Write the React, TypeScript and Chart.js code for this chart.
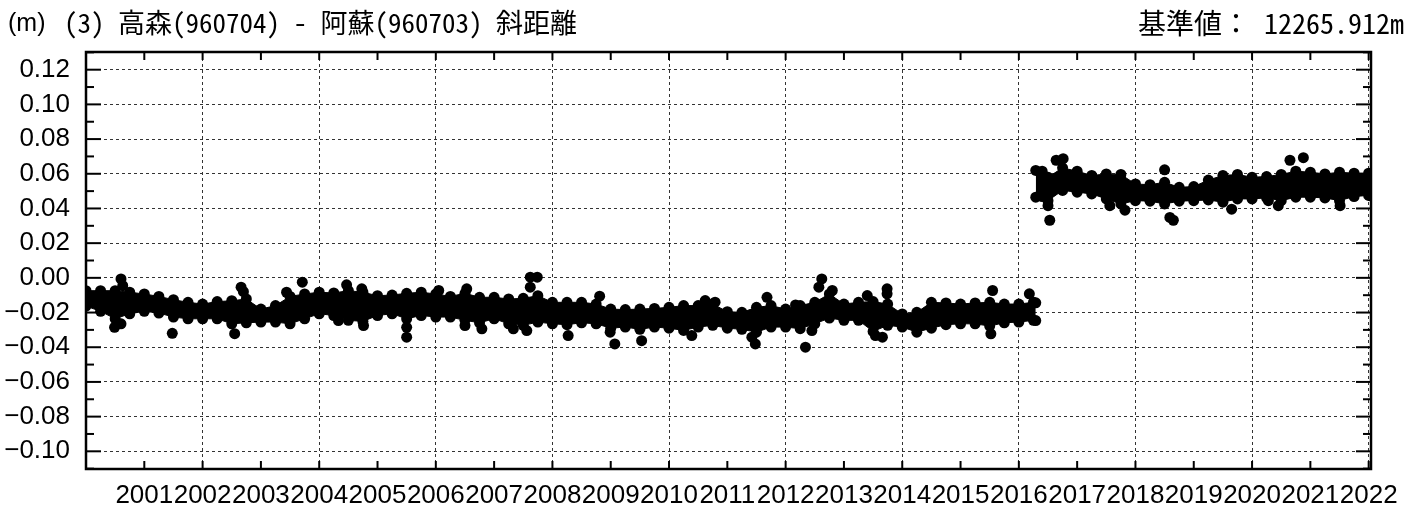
import React, { useEffect, useRef } from 'react';
import { Chart, registerables } from 'chart.js';

Chart.register(...registerables);

// ---- data (decimal years / metres) ----
const timesA = [
  2000.00, 2000.25, 2000.50, 2000.75, 2001.00, 2001.25, 2001.50, 2001.75,
  2002.00, 2002.25, 2002.50, 2002.75, 2003.00, 2003.25, 2003.50, 2003.75,
  2004.00, 2004.25, 2004.50, 2004.75, 2005.00, 2005.25, 2005.50, 2005.75,
  2006.00, 2006.25, 2006.50, 2006.75, 2007.00, 2007.25, 2007.50, 2007.75,
  2008.00, 2008.25, 2008.50, 2008.75, 2009.00, 2009.25, 2009.50, 2009.75,
  2010.00, 2010.25, 2010.50, 2010.75, 2011.00, 2011.25, 2011.50, 2011.75,
  2012.00, 2012.25, 2012.50, 2012.75, 2013.00, 2013.25, 2013.50, 2013.75,
  2014.00, 2014.25, 2014.50, 2014.75, 2015.00, 2015.25, 2015.50, 2015.75,
  2016.00, 2016.25, 2016.29,
];
const upperA = [
  -0.0074, -0.0074, -0.0074, -0.0083, -0.0093, -0.0107, -0.0126, -0.0141,
  -0.0151, -0.0137, -0.0132, -0.0122, -0.0180, -0.0160, -0.0107, -0.0093,
  -0.0083, -0.0087, -0.0074, -0.0083, -0.0103, -0.0099, -0.0089, -0.0083,
  -0.0093, -0.0107, -0.0089, -0.0112, -0.0112, -0.0122, -0.0118, -0.0103,
  -0.0141, -0.0141, -0.0141, -0.0151, -0.0180, -0.0183, -0.0180, -0.0176,
  -0.0170, -0.0160, -0.0160, -0.0151, -0.0195, -0.0199, -0.0170, -0.0160,
  -0.0180, -0.0160, -0.0141, -0.0093, -0.0151, -0.0141, -0.0137, -0.0151,
  -0.0208, -0.0199, -0.0141, -0.0145, -0.0151, -0.0145, -0.0141, -0.0151,
  -0.0151, -0.0141, -0.0144,
];
const lowerA = [
  -0.0163, -0.0193, -0.0236, -0.0207, -0.0193, -0.0203, -0.0226, -0.0236,
  -0.0236, -0.0236, -0.0265, -0.0259, -0.0255, -0.0255, -0.0265, -0.0236,
  -0.0207, -0.0217, -0.0245, -0.0251, -0.0217, -0.0207, -0.0236, -0.0217,
  -0.0226, -0.0226, -0.0245, -0.0259, -0.0236, -0.0265, -0.0274, -0.0255,
  -0.0265, -0.0270, -0.0259, -0.0265, -0.0290, -0.0284, -0.0297, -0.0284,
  -0.0290, -0.0303, -0.0284, -0.0274, -0.0290, -0.0297, -0.0313, -0.0284,
  -0.0284, -0.0293, -0.0265, -0.0232, -0.0245, -0.0245, -0.0309, -0.0274,
  -0.0284, -0.0313, -0.0290, -0.0270, -0.0265, -0.0265, -0.0278, -0.0259,
  -0.0255, -0.0245, -0.0246,
];

const timesB = [
  2016.29, 2016.40, 2016.50, 2016.75, 2017.00, 2017.25, 2017.50, 2017.75,
  2018.00, 2018.25, 2018.50, 2018.75, 2019.00, 2019.25, 2019.50, 2019.75,
  2020.00, 2020.25, 2020.50, 2020.75, 2021.00, 2021.25, 2021.50, 2021.75,
  2022.00, 2022.03,
];
const upperB = [
  0.0619, 0.0615, 0.0580, 0.0634, 0.0615, 0.0590, 0.0599, 0.0596,
  0.0541, 0.0537, 0.0551, 0.0522, 0.0526, 0.0564, 0.0590, 0.0596,
  0.0580, 0.0584, 0.0596, 0.0615, 0.0609, 0.0599, 0.0609, 0.0603,
  0.0603, 0.0601,
];
const lowerB = [
  0.0465, 0.0469, 0.0445, 0.0504, 0.0494, 0.0484, 0.0455, 0.0426,
  0.0445, 0.0442, 0.0426, 0.0442, 0.0445, 0.0449, 0.0436, 0.0455,
  0.0455, 0.0461, 0.0445, 0.0465, 0.0465, 0.0461, 0.0445, 0.0469,
  0.0475, 0.0474,
];

const outlierTimes = [
  2000.60, 2000.63, 2000.49, 2000.60, 2001.48, 2002.55, 2002.66, 2002.70,
  2003.44, 2003.71, 2004.33, 2004.47, 2004.73, 2004.76, 2005.50, 2005.50,
  2006.05, 2006.53, 2006.50, 2006.79, 2007.33, 2007.56, 2007.62, 2007.74,
  2007.62, 2008.27, 2008.81, 2009.07, 2008.99, 2009.53, 2010.39, 2010.62,
  2010.79, 2011.48, 2011.42, 2011.68, 2012.17, 2012.45, 2012.34, 2012.62,
  2012.57, 2012.80, 2013.40, 2013.74, 2013.74, 2013.54, 2013.66, 2015.55,
  2015.52, 2016.18,
  2016.53, 2016.50, 2016.64, 2016.76, 2017.82, 2017.56, 2018.50, 2018.59,
  2018.65, 2019.65, 2020.28, 2020.45, 2020.65, 2020.88, 2021.51,
];
const outlierValues = [
  -0.0006, -0.0045, -0.0285, -0.0265, -0.0320, -0.0322, -0.0054, -0.0080,
  -0.0083, -0.0025, -0.0246, -0.0040, -0.0063, -0.0275, -0.0342, -0.0285,
  -0.0073, -0.0063, -0.0275, -0.0294, -0.0294, -0.0304, 0.0004, 0.0004,
  -0.0054, -0.0333, -0.0106, -0.0381, -0.0313, -0.0362, -0.0333, -0.0131,
  -0.0140, -0.0381, -0.0342, -0.0112, -0.0156, -0.0304, -0.0400, -0.0006,
  -0.0054, -0.0073, -0.0102, -0.0063, -0.0092, -0.0333, -0.0342, -0.0073,
  -0.0323, -0.0092,
  0.0332, 0.0416, 0.0678, 0.0687, 0.0390, 0.0416, 0.0623, 0.0348,
  0.0332, 0.0396, 0.0445, 0.0416, 0.0678, 0.0693, 0.0416,
];

const xMin = 2000;
const xMax = 2022.04;
const yMin = -0.1102;
const yMax = 0.1302;

const titleLeft = '(3) 高森(960704) - 阿蘇(960703) 斜距離';
const titleRight = '基準値： 12265.912m';
const unitLabel = '(m)';

const R = 5.5;

function fmtY(v: number): string {
  if (Math.abs(v) < 1e-9) return '0.00';
  const s = v.toFixed(2);
  return s.startsWith('-') ? '\u2212' + s.slice(1) : s;
}

export default function App() {
  const ref = useRef<HTMLCanvasElement>(null);

  useEffect(() => {
    document.body.style.margin = '0';
    const canvas = ref.current!;
    const pts = (ts: number[], vs: number[]) => ts.map((t, i) => ({ x: t, y: vs[i] }));
    const dot = {
      pointRadius: R,
      pointHoverRadius: R,
      pointBackgroundColor: '#000',
      pointBorderColor: '#000',
      pointBorderWidth: 0,
      borderColor: '#000',
      backgroundColor: '#000',
      borderWidth: 1,
      tension: 0,
      showLine: true,
    };

    const framePlugin = {
      id: 'frame',
      afterDraw(chart: any) {
        const { ctx, chartArea: a, scales } = chart;
        const xs = scales.x;
        const ys = scales.y;
        ctx.save();
        ctx.strokeStyle = '#000';
        ctx.lineCap = 'butt';
        const seg = (x1: number, y1: number, x2: number, y2: number) => {
          ctx.beginPath();
          ctx.moveTo(x1, y1);
          ctx.lineTo(x2, y2);
          ctx.stroke();
        };
        ctx.lineWidth = 2;
        for (let yr = 2001; yr <= 2022; yr++) {
          const px = xs.getPixelForValue(yr);
          seg(px, a.bottom, px, a.bottom - 8);
          seg(px, a.top, px, a.top + 8);
        }
        for (let k = -11; k <= 13; k++) {
          const py = ys.getPixelForValue(k / 100);
          const len = k % 2 === 0 ? 15 : 8;
          seg(a.left, py, a.left + len, py);
          seg(a.right, py, a.right - len, py);
        }
        ctx.lineWidth = 2.5;
        ctx.strokeRect(a.left, a.top, a.right - a.left, a.bottom - a.top);
        ctx.restore();
      },
    };

    const chart = new Chart(canvas, {
      type: 'line',
      data: {
        datasets: [
          { ...dot, data: pts(timesA, upperA), fill: false },
          { ...dot, data: pts(timesA, lowerA), fill: '-1' },
          { ...dot, data: pts(timesB, upperB), fill: false },
          { ...dot, data: pts(timesB, lowerB), fill: '-1' },
          { ...dot, data: pts(outlierTimes, outlierValues), showLine: false, fill: false },
        ] as any,
      },
      options: {
        animation: false,
        responsive: false,
        maintainAspectRatio: false,
        devicePixelRatio: 1,
        layout: { padding: { left: 0, top: 52, right: 46, bottom: 0 } },
        plugins: {
          legend: { display: false },
          tooltip: { enabled: false },
          title: { display: false },
        },
        scales: {
          x: {
            type: 'linear',
            min: xMin,
            max: xMax,
            afterFit: (s: any) => { s.height = 37; },
            border: { display: false, dash: [3, 3] },
            grid: {
              drawTicks: false,
              lineWidth: 1,
              color: (c: any) => {
                const v = c.tick ? c.tick.value : 0;
                return v > 2000 && Math.round(v) % 2 === 0 ? '#333' : 'rgba(0,0,0,0)';
              },
            },
            ticks: {
              stepSize: 1,
              includeBounds: false,
              autoSkip: false,
              maxRotation: 0,
              minRotation: 0,
              padding: 11,
              color: '#000',
              font: { family: '"Liberation Sans", Arial, sans-serif', size: 26 },
              callback: (v: any) => (Number(v) >= 2001 ? String(Math.round(Number(v))) : ''),
            },
          },
          y: {
            type: 'linear',
            min: yMin,
            max: yMax,
            afterFit: (s: any) => { s.width = 86; },
            border: { display: false, dash: [3, 3] },
            grid: { drawTicks: false, lineWidth: 1, color: '#333' },
            ticks: {
              stepSize: 0.02,
              includeBounds: false,
              padding: 16,
              color: '#000',
              font: { family: '"Liberation Sans", Arial, sans-serif', size: 26 },
              callback: (v: any) => fmtY(Number(v)),
            },
          },
        },
      } as any,
      plugins: [framePlugin],
    });
    return () => chart.destroy();
  }, []);

  const cjk = '"Noto Sans Mono CJK JP", "Noto Sans CJK JP", sans-serif';
  return (
    <div style={{ position: 'relative', width: 1417, height: 506, background: '#fff' }}>
      <canvas ref={ref} width={1417} height={506} style={{ position: 'absolute', left: 0, top: 0 }} />
      <div style={{ position: 'absolute', left: 8, top: 6, lineHeight: '32px', fontSize: 25, fontFamily: '"Liberation Sans", Arial, sans-serif', color: '#000' }}>{unitLabel}</div>
      <div style={{ position: 'absolute', left: 64, top: 6, lineHeight: '32px', fontSize: 27, fontFamily: cjk, color: '#000', whiteSpace: 'pre' }}>{titleLeft}</div>
      <div style={{ position: 'absolute', right: 13, top: 6, lineHeight: '32px', fontSize: 28, fontFamily: cjk, color: '#000', whiteSpace: 'pre' }}>{titleRight}</div>
    </div>
  );
}
